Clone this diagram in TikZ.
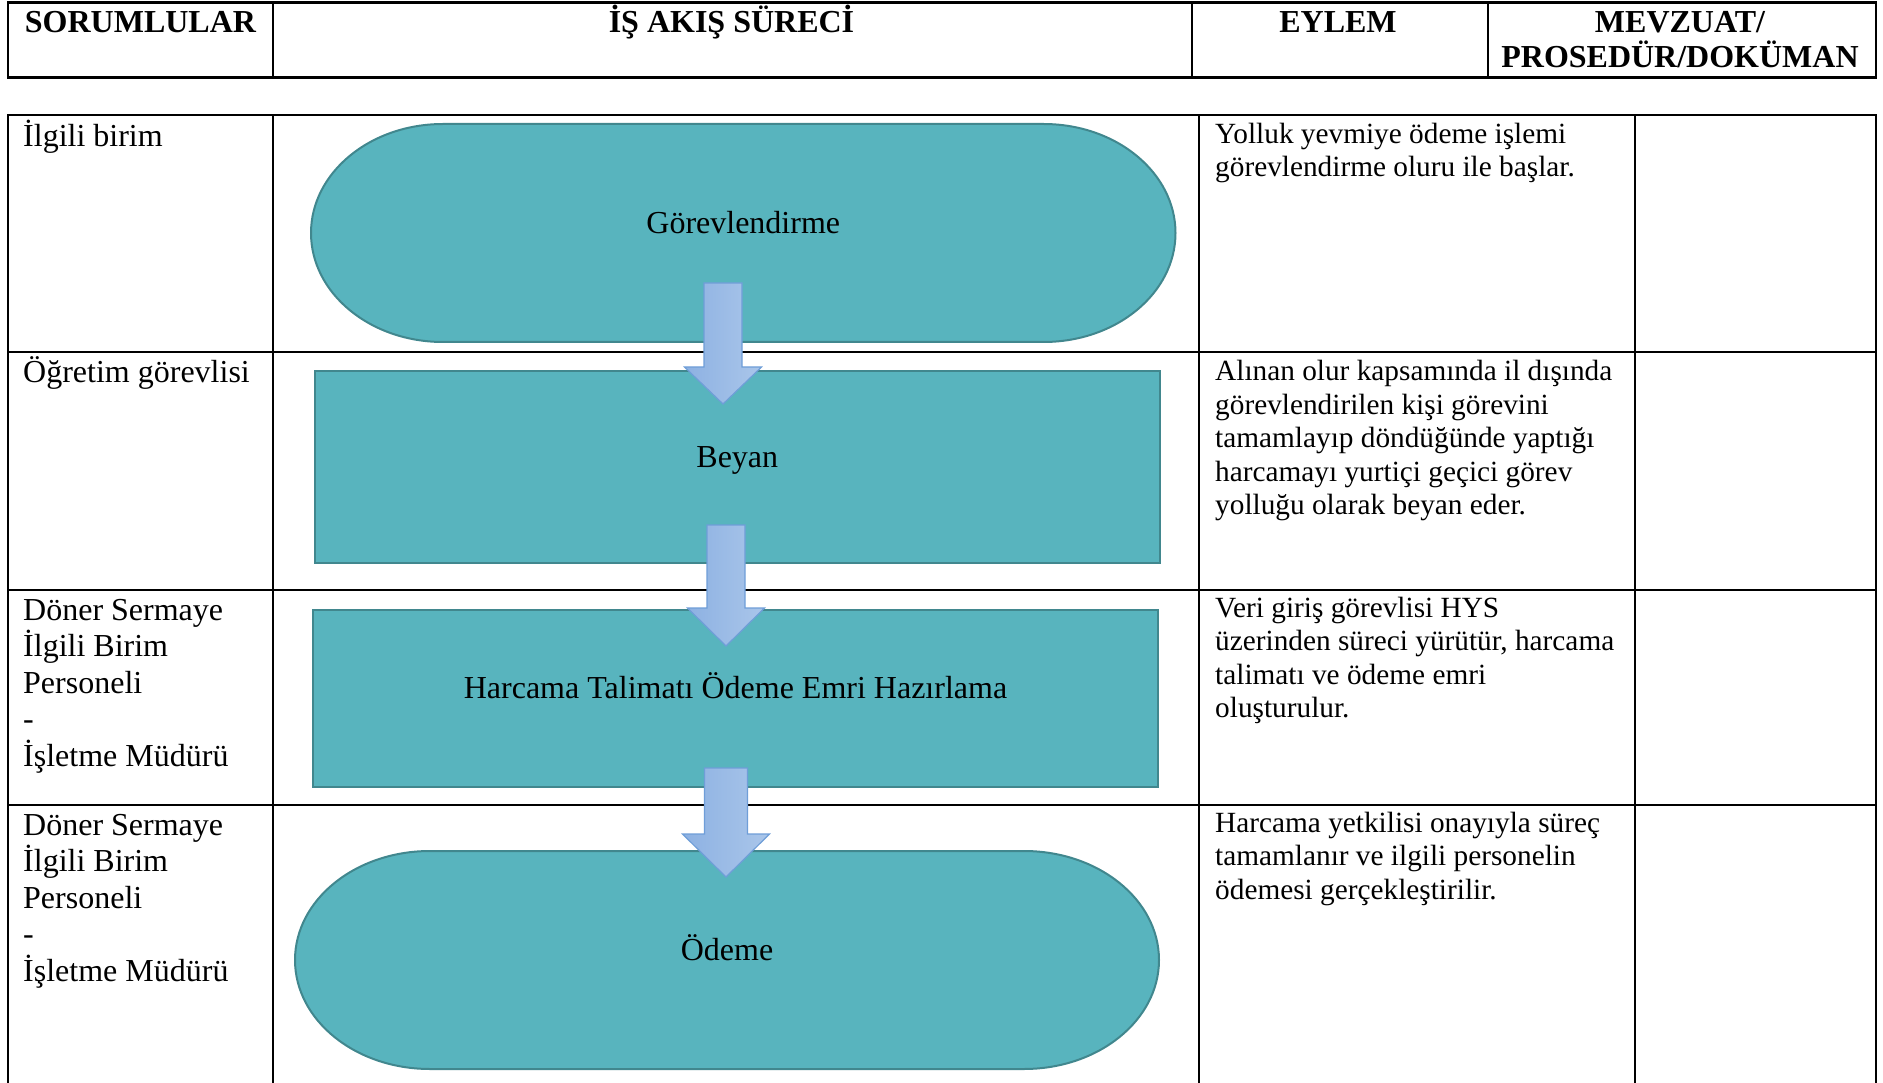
\documentclass[tikz,border=0pt]{standalone}
\usepackage{fontspec}
\setmainfont{Liberation Serif}
\usetikzlibrary{calc}
\definecolor{tealfill}{HTML}{58B4BE}
\definecolor{tealline}{HTML}{41878E}
\definecolor{arrL}{HTML}{8DB1E2}
\definecolor{arrR}{HTML}{AAC6EA}
\definecolor{arrLine}{HTML}{6F9ED8}
\newcommand\blockarr[5]{%
  \path[blockarrow] let \p1=(#1), \p2=(#2) in
    (\x1-#3pt,\y1) -- (\x1+#3pt,\y1) -- (\x1+#3pt,\y2+#5pt)
    -- (\x1+#4pt,\y2+#5pt) -- (\x1,\y2) -- (\x1-#4pt,\y2+#5pt)
    -- (\x1-#3pt,\y2+#5pt) -- cycle;}
\newcommand\termshape[3]{%
  \path[termpath] ([xshift=#2pt]#1.north west) -- ([xshift=-#2pt]#1.north east)
    arc[start angle=90,end angle=-90,x radius=#2pt,y radius=#3pt]
    -- ([xshift=#2pt]#1.south west)
    arc[start angle=270,end angle=90,x radius=#2pt,y radius=#3pt] -- cycle;}
\begin{document}
\begin{tikzpicture}[x=1pt,y=-1pt,
  hline/.style={line width=2.6pt},
  vline/.style={line width=2pt},
  procbox/.style={draw=tealline, fill=tealfill, line width=2pt, inner sep=0pt, outer sep=0pt},
  termbox/.style={draw=none, inner sep=0pt, outer sep=0pt},
  termpath/.style={draw=tealline, fill=tealfill, line width=2pt},
  big/.style={font=\fontsize{32}{36.6}\selectfont, inner sep=0pt},
  hdr/.style={font=\fontsize{32}{35}\selectfont\bfseries, inner sep=0pt},
  small/.style={font=\fontsize{29.3}{33.4}\selectfont, inner sep=0pt},
  blockarrow/.style={draw=arrLine, line width=1.2pt, left color=arrL, right color=arrR, line join=miter}
]
\useasboundingbox[fill=white] (0,0) rectangle (1883,1083);

% ---------- header table ----------
\draw[hline] (7,2.5) -- (1876.5,2.5);
\draw[hline] (7,77.5) -- (1876.5,77.5);
\foreach \xx in {8.3,272.5,1191.5,1488,1875.5}
  \draw[vline] (\xx,2.5) -- (\xx,77.5);
\node[hdr, anchor=base] (h1) at (140.5,33) {SORUMLULAR};
\node[hdr, anchor=base] (h2) at (731.5,33) {İŞ AKIŞ SÜRECİ};
\node[hdr, anchor=base] (h3) at (1338,33) {EYLEM};
\node[hdr, anchor=base] (h4) at (1680,33) {\vtop{\baselineskip=35pt
  \hbox to 0pt{\hss MEVZUAT/\hss}\hbox to 0pt{\hss PROSEDÜR/DOKÜMAN\hss}}};

% ---------- flow shapes ----------
\node[termbox, minimum width=864.5pt, minimum height=218pt] (s1) at (743.25,233) {};
\termshape{s1}{132}{109}
\node[big, anchor=base] (s1t) at (743.25,233.5) {Görevlendirme};

\node[procbox, minimum width=845.4pt, minimum height=192pt] (s2) at (737.3,467) {};
\node[big, anchor=base] (s2t) at (737.3,467) {Beyan};

\node[procbox, minimum width=844.3pt, minimum height=177pt] (s3) at (735.5,698.5) {};
\node[big, anchor=base] (s3t) at (735.5,698.5) {Harcama Talimatı Ödeme Emri Hazırlama};

\node[termbox, minimum width=864pt, minimum height=218pt] (s4) at (727,960) {};
\termshape{s4}{135}{109}
\node[big, anchor=base] (s4t) at (727,960) {Ödeme};

% ---------- body table ----------
\foreach \yy in {115,352,590,805}
  \draw[hline] (7,\yy) -- (1876.5,\yy);
\foreach \xx in {8.3,272.5,1199,1634.5,1875.5}
  \draw[vline] (\xx,115) -- (\xx,1083);

% left column
\node[big, anchor=base west] (r1l) at (23,146.5) {İlgili birim};
\node[big, anchor=base west] (r2l) at (23,383) {Öğretim görevlisi};
\node[big, anchor=base west] (r3l) at (23,620) {\vtop{\baselineskip=36.6pt
  \hbox{Döner Sermaye}\hbox{İlgili Birim}\hbox{Personeli}\hbox{-}\hbox{İşletme Müdürü}}};
\node[big, anchor=base west] (r4l) at (23,835) {\vtop{\baselineskip=36.6pt
  \hbox{Döner Sermaye}\hbox{İlgili Birim}\hbox{Personeli}\hbox{-}\hbox{İşletme Müdürü}}};

% EYLEM column
\node[small, anchor=base west] (r1e) at (1215,143.5) {\vtop{\baselineskip=33.4pt
  \hbox{Yolluk yevmiye ödeme işlemi}\hbox{görevlendirme oluru ile başlar.}}};
\node[small, anchor=base west] (r2e) at (1215,381) {\vtop{\baselineskip=33.4pt
  \hbox{Alınan olur kapsamında il dışında}\hbox{görevlendirilen kişi görevini}
  \hbox{tamamlayıp döndüğünde yaptığı}\hbox{harcamayı yurtiçi geçici görev}
  \hbox{yolluğu olarak beyan eder.}}};
\node[small, anchor=base west] (r3e) at (1215,617.5) {\vtop{\baselineskip=33.4pt
  \hbox{Veri giriş görevlisi HYS}\hbox{üzerinden süreci yürütür, harcama}
  \hbox{talimatı ve ödeme emri}\hbox{oluşturulur.}}};
\node[small, anchor=base west] (r4e) at (1215,832.5) {\vtop{\baselineskip=33.4pt
  \hbox{Harcama yetkilisi onayıyla süreç}\hbox{tamamlanır ve ilgili personelin}
  \hbox{ödemesi gerçekleştirilir.}}};

% ---------- block arrows ----------
\coordinate (a1s) at (723,283);
\coordinate (a1e) at (723,404);
\coordinate (a2s) at (726,525);
\coordinate (a2e) at (726,646);
\coordinate (a3s) at (726,768);
\coordinate (a3e) at (726,877);
\blockarr{a1s}{a1e}{19}{38.5}{37}
\blockarr{a2s}{a2e}{19}{38.5}{38}
\blockarr{a3s}{a3e}{21.5}{43.5}{43}
\end{tikzpicture}
\end{document}
